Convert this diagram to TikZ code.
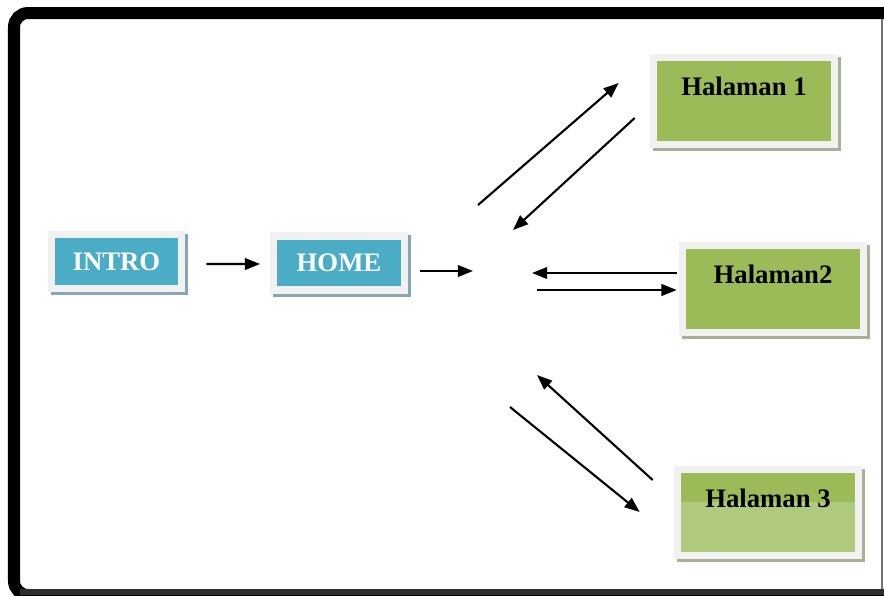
\documentclass[tikz,border=0pt]{standalone}
\usepackage{fontspec}
\setmainfont{Liberation Serif}
\usetikzlibrary{calc,arrows.meta,backgrounds}
\definecolor{introblue}{HTML}{4BACC6}
\definecolor{pagegreen}{HTML}{9BBB59}
\definecolor{palegreen}{HTML}{AFCA7D}
\definecolor{framegray}{HTML}{F1F1F1}
\definecolor{blueshadow}{HTML}{86A6B3}
\definecolor{greenshadow}{HTML}{A8B198}
\def\drawlink{\draw[line width=1.5pt,-{Triangle[length=3.8mm,width=2.9mm]}]}
% light frame plus shadow behind a box node
\def\backframe#1#2{\fill[#2] ($ (#1.north west) + (-4,-4) $) rectangle ($ (#1.south east) + (10,10) $);
  \fill[framegray] ($ (#1.north west) - (7,7) $) rectangle ($ (#1.south east) + (7,7) $);}

\begin{document}
\begin{tikzpicture}[x=0.025cm,y=-0.025cm,
  introbox/.style={rectangle,fill=introblue,inner sep=0pt,minimum width=3.08cm,minimum height=1.17cm,
    text=white,font=\bfseries\fontsize{19}{21}\selectfont},
  pagebox/.style={rectangle,fill=pagegreen,inner sep=0pt,minimum width=4.35cm,minimum height=1.98cm},
  pagelabel/.style={anchor=north,yshift=-0.39cm,inner sep=0pt,font=\bfseries\fontsize{19}{21}\selectfont}]
\useasboundingbox (0,0) rectangle (884,595);
\clip (0,0) rectangle (884,595);

% -------- boxes ---------
\node[introbox] (intro) at (116.5,261.5) {INTRO};
\node[introbox] (home) at (339,263) {HOME};
\node[pagebox,label={[pagelabel]north:Halaman 1}] (hal1) at (744,101) {};
\node[pagebox,label={[pagelabel]north:Halaman2}] (hal2) at (773,289) {};
\node[pagebox,fill=palegreen,label={[pagelabel]north:Halaman 3},
  path picture={\fill[pagegreen] (path picture bounding box.north west) rectangle
    ($ (path picture bounding box.north east) + (0,29) $);}] (hal3) at (768,512.5) {};

\begin{scope}[on background layer]
\fill[white] (0,0) rectangle (884,595);
\backframe{intro}{blueshadow}
\backframe{home}{blueshadow}
\backframe{hal1}{greenshadow}
\backframe{hal2}{greenshadow}
\backframe{hal3}{greenshadow}
\end{scope}

% -------- arrows ---------
\coordinate (hub) at (473,271); % where HOME points to, nothing drawn there
\drawlink ($ (intro.east) + (28,2.5) $) -- ($ (home.west) + (-17,1) $);
\drawlink ($ (home.east) + (19,8) $) -- (hub);

% pair to Halaman 1
\coordinate (up_start) at (478,205);
\coordinate (down_end) at (513,230);
\drawlink (up_start) -- ($ (hal1.west) + (-38,-18) $);
\drawlink ($ (hal1.west) + (-22,17) $) -- (down_end);

% pair to Halaman2
\coordinate (back_end) at (532,273);
\coordinate (out_start) at (537,290);
\drawlink ($ (hal2.west) + (-9,-16) $) -- (back_end);
\drawlink (out_start) -- ($ (hal2.west) + (-9,1) $);

% pair to Halaman 3
\coordinate (up_end) at (537,375);
\coordinate (down_start) at (510,407);
\drawlink ($ (hal3.west) + (-28,-32.5) $) -- (up_end);
\drawlink (down_start) -- ($ (hal3.west) + (-41,-0.5) $);

% -------- outer border ---------
\draw[line width=0.3cm,rounded corners=0.35cm] (14,13) rectangle (896,595);
\fill[black!82] (20,589) rectangle (884,595);
\draw[black!55,line width=0.04cm] (882,19) -- (882,589);
\end{tikzpicture}
\end{document}
